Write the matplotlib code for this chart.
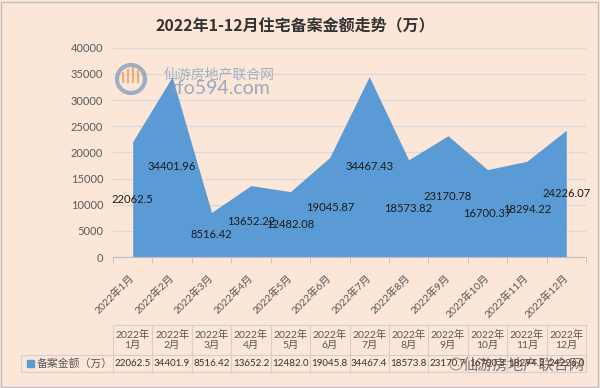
import matplotlib
matplotlib.use("Agg")
import matplotlib.pyplot as plt
from matplotlib.lines import Line2D
from matplotlib.patches import Rectangle, Circle
import matplotlib.transforms as mtrans

plt.rcParams['font.family'] = ['Lato', 'Noto Sans CJK SC', 'DejaVu Sans']

title = "2022年1-12月住宅备案金额走势（万）"
months = ["2022年1月", "2022年2月", "2022年3月", "2022年4月", "2022年5月", "2022年6月",
          "2022年7月", "2022年8月", "2022年9月", "2022年10月", "2022年11月", "2022年12月"]
values = [22062.5, 34401.96, 8516.42, 13652.22, 12482.08, 19045.87,
          34467.43, 18573.82, 23170.78, 16700.37, 18294.22, 24226.07]
series_name = "备案金额（万）"
yticks = [0, 5000, 10000, 15000, 20000, 25000, 30000, 35000, 40000]

W, H = 600, 388
fig = plt.figure(figsize=(6, 3.88), dpi=100)
bg = '#fce6d8'
fig.patch.set_facecolor(bg)

L, R = 113 / W, 586 / W
B, T = 1 - 257 / H, 1 - 47.7 / H
ax = fig.add_axes([L, B, R - L, T - B])
ax.set_facecolor('none')
x = list(range(len(values)))
ax.fill_between(x, values, 0, color='#5B9BD5', linewidth=0, zorder=2)
ax.set_xlim(-0.5, len(values) - 0.5)
ax.set_ylim(0, 40000)
ax.set_yticks(yticks)
ax.set_yticklabels([str(v) for v in yticks], color='#595959', fontsize=8)
ax.tick_params(axis='y', length=0, pad=7)
ax.grid(axis='y', color='#d9d9d9', linewidth=0.9, zorder=1)
ax.set_axisbelow(True)
for s in ['top', 'right', 'left']:
    ax.spines[s].set_visible(False)
ax.spines['bottom'].set_color('#bfbfbf')
ax.spines['bottom'].set_zorder(3)
ax.set_xticks(x)
ax.set_xticklabels(months, rotation=45, ha='right', va='center',
                   rotation_mode='anchor', color='#595959', fontsize=7.5)
ax.tick_params(axis='x', length=0, pad=14)
ax.set_xticks([i - 0.5 for i in range(len(values) + 1)], minor=True)
ax.tick_params(axis='x', which='minor', length=4, color='#bfbfbf')

def fmt(v):
    return f"{v:.2f}".rstrip('0').rstrip('.')

for i, v in enumerate(values):
    ax.text(i, v / 2, fmt(v), ha='center', va='center', fontsize=8.1,
            color='#1a1a1a', zorder=4)

# watermark (logo + site text), pixel coordinates
pix = mtrans.IdentityTransform()
fig.add_artist(Circle((131, H - 79), 14, transform=pix,
                      fill=False, edgecolor='#7f9bb8', lw=3, alpha=0.75))
for bx, bh in [(123, 9), (128, 12), (133, 14), (138, 11)]:
    fig.add_artist(Line2D([bx, bx], [H - 82, H - 82 + bh], transform=pix,
                          color='#f0a060', lw=1.6, alpha=0.85))
fig.text(219 / W, 1 - 74 / H, "仙游房地产联合网", fontsize=10, color='#8aa4c0', alpha=0.8,
         ha='center', va='center', family=['Noto Sans CJK SC'])
fig.text(219 / W, 1 - 89 / H, "xfo594.com", fontsize=14, color='#7f9bb8', alpha=0.8,
         ha='center', va='center')

# title
fig.text(295 / W, 1 - 25 / H, title, ha='center', va='center', fontsize=11.5,
         fontweight='bold', color='#333333', family=['Noto Sans CJK SC'])

# data table
tr = mtrans.blended_transform_factory(ax.transData, fig.transFigure)
y0 = 1 - 325 / H
y1 = 1 - 355 / H
y2 = 1 - 372 / H
gc = '#d0d0d0'
n = len(values)
for i in range(n + 1):
    fig.add_artist(Line2D([i - 0.5, i - 0.5], [y2, y0], transform=tr, color=gc, lw=0.8))
for yy in [y0, y1, y2]:
    fig.add_artist(Line2D([-0.5, n - 0.5], [yy, yy], transform=tr, color=gc, lw=0.8))
lx0 = 21 / W
fig.add_artist(Line2D([lx0, L], [y1, y1], transform=fig.transFigure, color=gc, lw=0.8))
fig.add_artist(Line2D([lx0, L], [y2, y2], transform=fig.transFigure, color=gc, lw=0.8))
fig.add_artist(Line2D([lx0, lx0], [y2, y1], transform=fig.transFigure, color=gc, lw=0.8))

for i, m in enumerate(months):
    yr, mo = m.split("年")
    fig.text(i, (y0 + y1) / 2, yr + "年\n" + mo, transform=tr, ha='center', va='center',
             fontsize=7.5, color='#595959', linespacing=1.05)
    fig.text(i, (y1 + y2) / 2, str(values[i])[:7], transform=tr, ha='center', va='center',
             fontsize=7.0, color='#333333')

fig.add_artist(Rectangle((27 / W, (y1 + y2) / 2 - 3.5 / H), 7 / W, 7 / H,
                         transform=fig.transFigure, color='#5B9BD5'))
fig.text(37 / W, (y1 + y2) / 2, series_name, ha='left', va='center', fontsize=7.8,
         color='#595959', family=['Noto Sans CJK SC'])

# bottom watermark
fig.add_artist(Circle((456, H - 364), 6, transform=pix,
                      fill=False, edgecolor='#777777', lw=0.8, alpha=0.7))
fig.text(524 / W, 1 - 365 / H, "仙游房地产联合网", ha='center', va='center', fontsize=11,
         color='#4d4d4d', alpha=0.75, family=['Noto Sans CJK SC'])

# chart border
fig.add_artist(Rectangle((0.5 / W, 1.5 / H), (W - 3) / W, (H - 3) / H,
                         transform=fig.transFigure, fill=False, edgecolor='#bfbfbf', lw=1))

fig.savefig("out.png", dpi=100, facecolor=bg)
